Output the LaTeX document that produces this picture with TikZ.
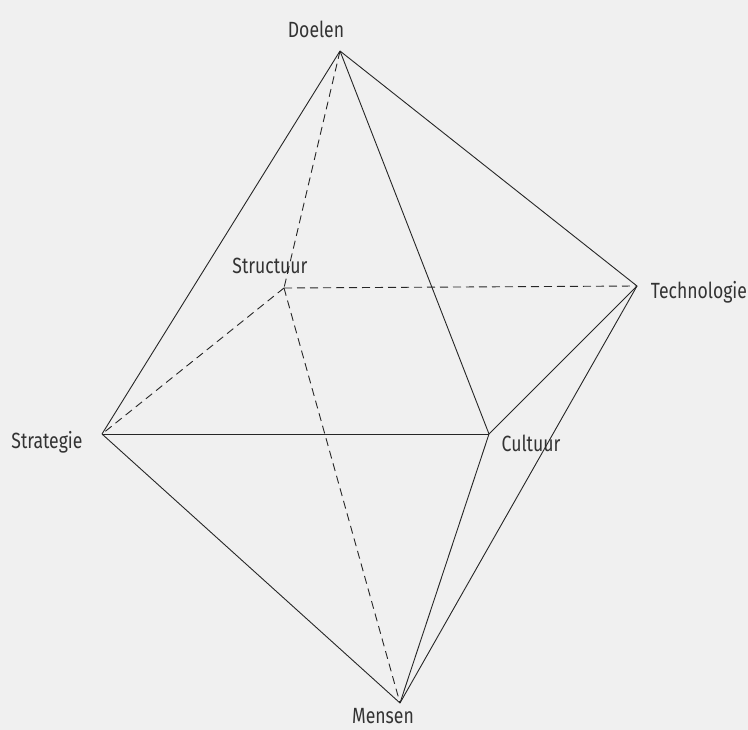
\documentclass[tikz,border=0pt]{standalone}
\usepackage{fontspec}
\setmainfont[FakeStretch=0.8]{Fira Sans}
\begin{document}
\begin{tikzpicture}[x=1pt,y=-1pt,
  edge/.style={draw=black!85,line width=0.9pt},
  hidden/.style={edge,dash pattern=on 8pt off 5pt},
  lbl/.style={font=\fontsize{22}{26}\selectfont,text=black!80,inner sep=0pt}]
\fill[black!6] (0,0) rectangle (748,730);
\useasboundingbox (0,0) rectangle (748,730);
\coordinate (D) at (340,51);
\coordinate (T) at (637,286);
\coordinate (S) at (284,288);
\coordinate (St) at (102,434);
\coordinate (C) at (489,434);
\coordinate (M) at (400,703);
\node[lbl] (lD) at (316,29) {Doelen};
\node[lbl] (lS) at (270,266) {Structuur};
\node[lbl] (lT) at (699,292) {Technologie};
\node[lbl] (lSt) at (47,442) {Strategie};
\node[lbl] (lC) at (531,443) {Cultuur};
\node[lbl] (lM) at (383,716) {Mensen};
\draw[hidden] (D) -- (S);
\draw[hidden] (S) -- (T);
\draw[hidden] (S) -- (St);
\draw[hidden] (S) -- (M);
\draw[edge] (D) -- (St);
\draw[edge] (D) -- (C);
\draw[edge] (D) -- (T);
\draw[edge] (St) -- (C);
\draw[edge] (C) -- (T);
\draw[edge] (St) -- (M);
\draw[edge] (C) -- (M);
\draw[edge] (T) -- (M);
\end{tikzpicture}
\end{document}
